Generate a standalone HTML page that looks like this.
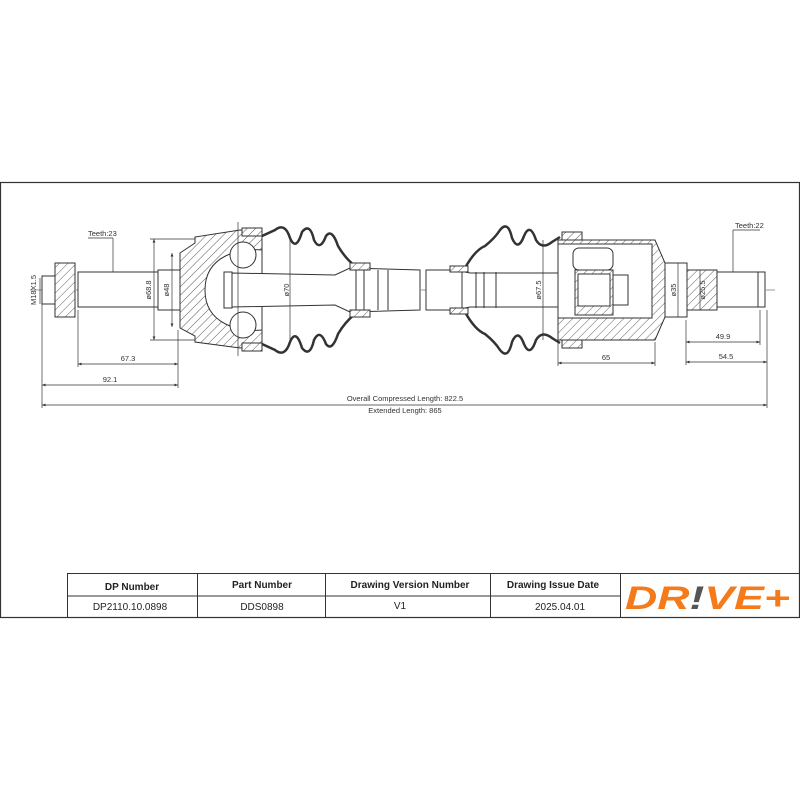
<!DOCTYPE html>
<html><head><meta charset="utf-8"><style>
html,body{margin:0;padding:0;background:#fff;}
svg{display:block;}
text{font-family:"Liberation Sans",sans-serif;}
</style></head><body>
<svg width="800" height="800" viewBox="0 0 800 800" xmlns="http://www.w3.org/2000/svg">
<defs>
<pattern id="h" width="6" height="6" patternUnits="userSpaceOnUse" patternTransform="rotate(45)">
<rect width="6" height="6" fill="#fff"/><line x1="0" y1="0" x2="0" y2="6" stroke="#333" stroke-width="0.8"/></pattern>
<marker id="a" markerWidth="6" markerHeight="6" refX="5" refY="3" orient="auto-start-reverse"><path d="M0,1 L5,3 L0,5" fill="#333"/></marker>
</defs>
<rect x="0.5" y="182.5" width="799" height="435" fill="none" stroke="#333" stroke-width="1.2"/>
<g stroke="#333" fill="none" stroke-width="1">
<!-- center line -->
<line x1="30" y1="290" x2="775" y2="290" stroke-dasharray="14,3,3,3" stroke-width="0.6"/>
<!-- left nut & stub -->
<rect x="42" y="276" width="14" height="28" fill="#fff"/>
<rect x="55" y="263" width="20" height="54" fill="url(#h)"/>
<rect x="78" y="272" width="80" height="35" fill="#fff"/>
<rect x="158" y="270" width="22" height="40" fill="#fff"/>
<!-- outer CV housing -->
<path d="M180,253 L195,243 L195,237 L240,230 L262,232 L262,345 L240,348 L195,342 L195,336 L180,328 Z" fill="url(#h)"/>
<path d="M205,290 C205,255 240,248 262,250 L262,330 C240,332 205,325 205,290 Z" fill="#fff"/>
<circle cx="243" cy="255" r="13" fill="#fff"/><circle cx="243" cy="325" r="13" fill="#fff"/>
<rect x="224" y="272" width="8" height="36" fill="#fff"/>
<!-- left shaft -->
<path d="M232,273 L335,275 L350,268 L420,270 L420,310 L350,312 L335,305 L232,307 Z" fill="#fff"/>
<line x1="356" y1="268" x2="356" y2="312"/><line x1="364" y1="268" x2="364" y2="312"/><line x1="378" y1="270" x2="378" y2="310"/><line x1="388" y1="270" x2="388" y2="310"/>
<!-- left boot -->
<path d="M262,236 L275,230 Q285,222 290,238 Q296,252 302,232 Q310,222 314,240 Q320,252 326,236 Q332,228 338,246 Q345,258 355,266" stroke-width="2.5"/>
<path d="M262,344 L275,350 Q285,358 290,342 Q296,328 302,348 Q310,358 314,340 Q320,328 326,344 Q332,352 338,334 Q345,322 355,314" stroke-width="2.5"/>
<rect x="242" y="228" width="20" height="8" fill="url(#h)"/><rect x="242" y="343" width="20" height="8" fill="url(#h)"/>
<rect x="350" y="263" width="20" height="7" fill="url(#h)"/><rect x="350" y="310" width="20" height="7" fill="url(#h)"/>
<!-- right shaft -->
<path d="M426,270 L455,270 L470,273 L560,273 L560,307 L470,307 L455,310 L426,310 Z" fill="#fff"/>
<line x1="462" y1="270" x2="462" y2="310"/><line x1="476" y1="272" x2="476" y2="308"/><line x1="484" y1="272" x2="484" y2="308"/><line x1="496" y1="272" x2="496" y2="308"/>
<path d="M465,268 Q475,250 485,246 Q495,238 500,230 Q508,220 512,238 Q518,252 524,236 Q530,222 536,240 Q542,250 552,242 L560,237" stroke-width="2.5"/>
<path d="M465,312 Q475,330 485,334 Q495,342 500,350 Q508,360 512,342 Q518,328 524,344 Q530,358 536,340 Q542,330 552,338 L560,343" stroke-width="2.5"/>
<rect x="450" y="266" width="18" height="6" fill="url(#h)"/><rect x="450" y="308" width="18" height="6" fill="url(#h)"/>
<rect x="562" y="232" width="20" height="8" fill="url(#h)"/><rect x="562" y="340" width="20" height="8" fill="url(#h)"/>
<!-- tripod housing -->
<path d="M558,240 L655,240 L665,263 L665,317 L655,340 L558,340 Z" fill="url(#h)"/>
<path d="M558,244 L652,244 L652,318 L558,318 Z" fill="#fff"/>
<rect x="573" y="248" width="40" height="22" rx="6" fill="#fff"/>
<rect x="575" y="270" width="38" height="45" fill="url(#h)"/>
<rect x="578" y="274" width="32" height="32" fill="#fff"/>
<rect x="613" y="275" width="15" height="30" fill="#fff"/>
<!-- right stub -->
<rect x="665" y="263" width="22" height="54" fill="#fff"/>
<rect x="687" y="270" width="30" height="40" fill="url(#h)"/>
<rect x="717" y="272" width="48" height="35" fill="#fff"/>
<line x1="758" y1="272" x2="758" y2="307"/>
</g>
<!-- dimensions -->
<g stroke="#333" stroke-width="0.7" fill="none">
<line x1="42" y1="300" x2="42" y2="408"/><line x1="78" y1="310" x2="78" y2="367"/><line x1="178" y1="330" x2="178" y2="388"/>
<line x1="78" y1="364" x2="178" y2="364" marker-start="url(#a)" marker-end="url(#a)"/>
<line x1="42" y1="385" x2="178" y2="385" marker-start="url(#a)" marker-end="url(#a)"/>
<line x1="42" y1="405" x2="767" y2="405" marker-start="url(#a)" marker-end="url(#a)"/>
<line x1="767" y1="310" x2="767" y2="408"/><line x1="760" y1="310" x2="760" y2="345"/><line x1="686" y1="320" x2="686" y2="365"/>
<line x1="686" y1="342" x2="760" y2="342" marker-start="url(#a)" marker-end="url(#a)"/>
<line x1="686" y1="362" x2="767" y2="362" marker-start="url(#a)" marker-end="url(#a)"/>
<line x1="558" y1="342" x2="558" y2="366"/><line x1="655" y1="342" x2="655" y2="366"/>
<line x1="558" y1="363" x2="655" y2="363" marker-start="url(#a)" marker-end="url(#a)"/>
<line x1="154" y1="239" x2="154" y2="340" marker-start="url(#a)" marker-end="url(#a)"/>
<line x1="150" y1="239" x2="195" y2="239"/><line x1="150" y1="340" x2="195" y2="340"/>
<line x1="172" y1="253" x2="172" y2="327" marker-start="url(#a)" marker-end="url(#a)"/>
<line x1="290" y1="237" x2="290" y2="343"/><line x1="543" y1="240" x2="543" y2="340"/>
<line x1="678" y1="263" x2="678" y2="317"/><line x1="700" y1="270" x2="700" y2="310"/>
<line x1="88" y1="238" x2="113" y2="238"/><line x1="113" y1="238" x2="113" y2="272"/>
<line x1="733" y1="230" x2="760" y2="230"/><line x1="733" y1="230" x2="733" y2="272"/>
<line x1="238" y1="222" x2="238" y2="356"/><line x1="40" y1="278" x2="40" y2="304"/>
</g>
<g font-size="7.5" fill="#333">
<text x="88" y="236">Teeth:23</text>
<text x="735" y="228">Teeth:22</text>
<text x="128" y="361" text-anchor="middle">67.3</text>
<text x="110" y="382" text-anchor="middle">92.1</text>
<text x="606" y="360" text-anchor="middle">65</text>
<text x="723" y="339" text-anchor="middle">49.9</text>
<text x="726" y="359" text-anchor="middle">54.5</text>
<text x="405" y="401" text-anchor="middle">Overall  Compressed  Length: 822.5</text>
<text x="405" y="413" text-anchor="middle">Extended  Length: 865</text>
<text transform="translate(36,290) rotate(-90)" text-anchor="middle">M18X1.5</text>
<text transform="translate(151,290) rotate(-90)" text-anchor="middle">ø68.8</text>
<text transform="translate(169,290) rotate(-90)" text-anchor="middle">ø48</text>
<text transform="translate(289,290) rotate(-90)" text-anchor="middle">ø70</text>
<text transform="translate(541,290) rotate(-90)" text-anchor="middle">ø67.5</text>
<text transform="translate(676,290) rotate(-90)" text-anchor="middle">ø35</text>
<text transform="translate(705,290) rotate(-90)" text-anchor="middle">ø25.5</text>
</g>
<!-- table -->
<g stroke="#333" stroke-width="1" fill="none">
<line x1="67" y1="573.5" x2="800" y2="573.5"/>
<line x1="67.5" y1="573" x2="67.5" y2="617"/>
<line x1="67" y1="596" x2="620" y2="596"/>
<line x1="197.5" y1="573" x2="197.5" y2="617"/><line x1="325.5" y1="573" x2="325.5" y2="617"/>
<line x1="490.5" y1="573" x2="490.5" y2="617"/><line x1="620.5" y1="573" x2="620.5" y2="617"/>
</g>
<g font-size="10" fill="#222" text-anchor="middle">
<text x="132" y="590" font-weight="bold">DP Number</text>
<text x="262" y="588" font-weight="bold">Part Number</text>
<text x="410" y="588" font-weight="bold">Drawing Version Number</text>
<text x="553" y="588" font-weight="bold">Drawing Issue Date</text>
<text x="130" y="610">DP2110.10.0898</text>
<text x="262" y="610">DDS0898</text>
<text x="400" y="609">V1</text>
<text x="560" y="610">2025.04.01</text>
</g>
<text x="625" y="609" font-size="32" font-weight="bold" font-style="italic" fill="#f47a1a" textLength="165" lengthAdjust="spacingAndGlyphs">DR<tspan fill="#555">!</tspan>VE+</text>
</svg>
</body></html>
